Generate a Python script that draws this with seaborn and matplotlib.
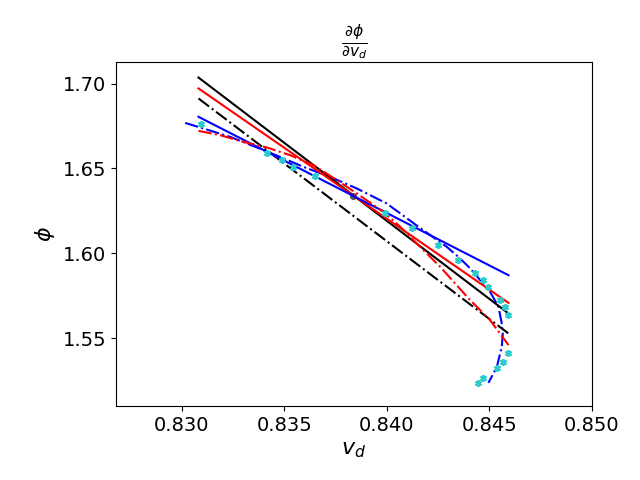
import matplotlib
matplotlib.use("Agg")
import matplotlib.pyplot as plt
import numpy as np
import pandas as pd
import seaborn as sns

# trajectory (blue dash-dot)
traj_vd = [0.83016, 0.83105, 0.83236, 0.83366, 0.83479, 0.83593, 0.83723, 0.83853,
           0.83999, 0.84154, 0.84292, 0.84357, 0.84406, 0.84455, 0.84503, 0.84544,
           0.84560, 0.84565, 0.84560, 0.84536, 0.84495]
traj_phi = [1.67682, 1.67353, 1.66859, 1.66235, 1.65682, 1.65094, 1.64506, 1.63824,
            1.62941, 1.61565, 1.60388, 1.59706, 1.59118, 1.58429, 1.57741, 1.56859,
            1.55882, 1.55294, 1.54506, 1.53329, 1.52388]

# sampled points (cyan)
pts_vd = [0.830927, 0.834145, 0.834876, 0.835442, 0.836500, 0.839914, 0.841216,
          0.842513, 0.843488, 0.844302, 0.844707, 0.844951, 0.845521, 0.845765,
          0.845926, 0.845897, 0.845682, 0.845361, 0.844707, 0.844463]
pts_phi = [1.67606, 1.65882, 1.65488, 1.65059, 1.64547, 1.62353, 1.61471,
           1.60488, 1.59606, 1.58824, 1.58429, 1.58000, 1.57253, 1.56859,
           1.56371, 1.54118, 1.53624, 1.53235, 1.52647, 1.52388]

# second-order fit (red dash-dot)
quad_vd = [0.83081, 0.83187, 0.83300, 0.83415, 0.83528, 0.83642, 0.83756, 0.83853,
           0.83983, 0.84065, 0.84178, 0.84260, 0.84398, 0.84503, 0.84593]
quad_phi = [1.67212, 1.66959, 1.66565, 1.66235, 1.65782, 1.65194, 1.64312, 1.63529,
            1.62447, 1.61565, 1.60194, 1.59212, 1.57353, 1.56076, 1.54606]

# straight approximations (endpoints)
line_vd = [0.83081, 0.84593]
black_phi = [1.7035, 1.5647]
red_phi = [1.6971, 1.5709]
black_dd_phi = [1.6912, 1.5529]
blue_phi = [1.6804, 1.5872]

center_vd = [0.83835]
center_phi = [1.6337]

fig, ax = plt.subplots(figsize=(6.4, 4.8), dpi=100)

sns.lineplot(x=traj_vd, y=traj_phi, sort=False, estimator=None, color="b",
             linestyle="-.", linewidth=1.5, ax=ax)
sns.lineplot(x=line_vd, y=black_phi, sort=False, estimator=None, color="k", linewidth=1.5, ax=ax)
sns.lineplot(x=line_vd, y=red_phi, sort=False, estimator=None, color="r", linewidth=1.5, ax=ax)
sns.lineplot(x=line_vd, y=black_dd_phi, sort=False, estimator=None, color="k",
             linestyle="-.", linewidth=1.5, ax=ax)
sns.lineplot(x=line_vd, y=blue_phi, sort=False, estimator=None, color="b", linewidth=1.5, ax=ax)
sns.lineplot(x=quad_vd, y=quad_phi, sort=False, estimator=None, color="r",
             linestyle="-.", linewidth=1.5, ax=ax)
ax.plot(pts_vd, pts_phi, linestyle="none", marker=(6, 2, 0), color="#2ccccc",
        markersize=5, markeredgewidth=1.3)
ax.plot(center_vd, center_phi, "o", color="0.3", markersize=4, zorder=1)

ax.set_xlim(0.82678, 0.85)
ax.set_ylim(1.5102, 1.7127)
ax.set_xticks([0.830, 0.835, 0.840, 0.845, 0.850])
ax.set_yticks([1.55, 1.60, 1.65, 1.70])
ax.tick_params(labelsize=14)
ax.set_xlabel(r"$v_d$", fontsize=16)
ax.set_ylabel(r"$\phi$", fontsize=16)
ax.set_title(r"$\frac{\partial \phi}{\partial v_d}$", fontsize=16)

fig.subplots_adjust(left=0.181, right=0.925, top=0.871, bottom=0.154)
plt.savefig("out.png", dpi=100)
